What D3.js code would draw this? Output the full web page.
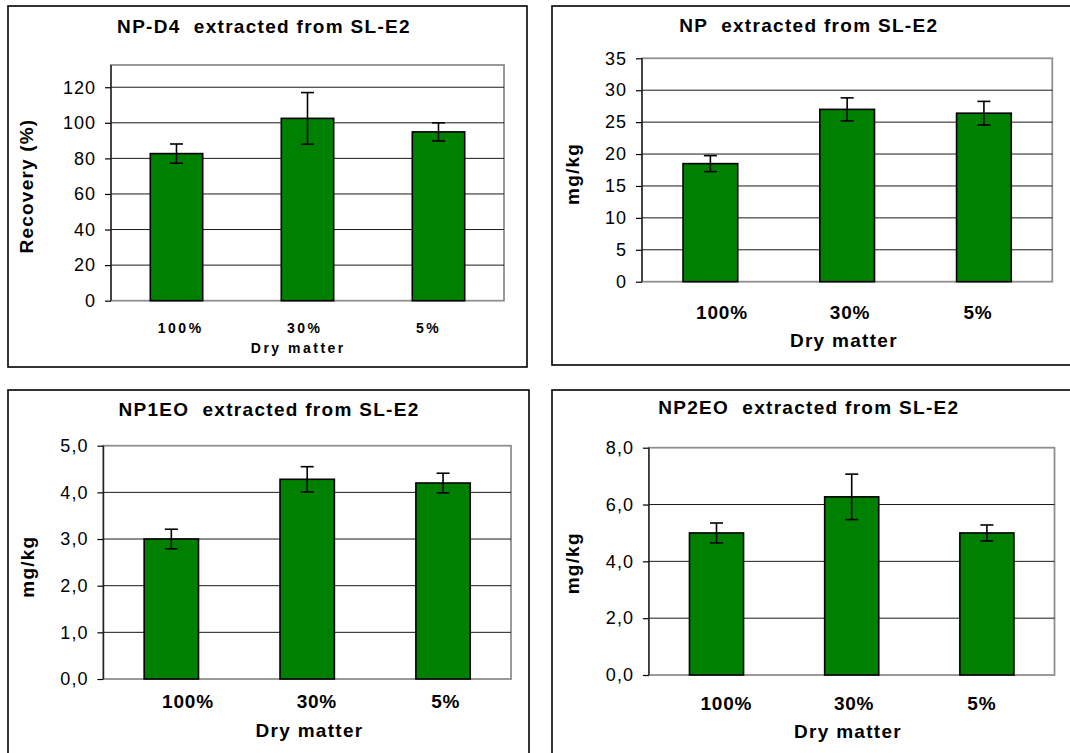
<!DOCTYPE html>
<html><head><meta charset="utf-8">
<script src="https://cdn.jsdelivr.net/npm/d3@7"></script>
<style>
body{margin:0;background:#fff}
svg{display:block;font-family:"Liberation Sans",Arial,Helvetica,sans-serif}
text{white-space:pre}
</style>
</head><body>
<svg id="c" width="1070" height="753"></svg>
<script>
// ---------- data ----------
const categories = ["100%", "30%", "5%"];
const xAxisTitle = "Dry matter";

const npd4Title = "NP-D4  extracted from SL-E2";
const npd4YTitle = "Recovery (%)";
const npd4Values = [82.7, 102.5, 94.9];
const npd4Errors = [5.4, 14.5, 5.1];
const npd4Ticks = [0, 20, 40, 60, 80, 100, 120];

const npTitle = "NP  extracted from SL-E2";
const npYTitle = "mg/kg";
const npValues = [18.5, 27.0, 26.4];
const npErrors = [1.25, 1.8, 1.85];
const npTicks = [0, 5, 10, 15, 20, 25, 30, 35];

const np1eoTitle = "NP1EO  extracted from SL-E2";
const np1eoYTitle = "mg/kg";
const np1eoValues = [3.0, 4.28, 4.2];
const np1eoErrors = [0.21, 0.27, 0.21];
const np1eoTicks = [0, 1, 2, 3, 4, 5];

const np2eoTitle = "NP2EO  extracted from SL-E2";
const np2eoYTitle = "mg/kg";
const np2eoValues = [5.0, 6.27, 5.0];
const np2eoErrors = [0.35, 0.8, 0.28];
const np2eoTicks = [0, 2, 4, 6, 8];

// ---------- formats ----------
const commaLocale = d3.formatLocale({decimal: ",", thousands: ".", grouping: [3], currency: ["", ""]});
const fmtInt = d3.format("d");
const fmtDec = commaLocale.format(".1f");

// ---------- layout ----------
const panels = [
  {title: npd4Title, yTitle: npd4YTitle, values: npd4Values, errors: npd4Errors, ticks: npd4Ticks, fmt: fmtInt,
   frame: [8, 6, 519, 361], plot: {l: 111, t: 65, r: 504, b: 300.7}, ymax: 132.5,
   titlePos: [264, 32.7], yTitlePos: [33, 186], yTitleLs: 1.2,
   xlab: {l: 180.7, r: 428.6, y: 333.3, size: 14, ls: 2.5}, xt: {x: 298.3, y: 353.3, size: 14, ls: 2.5}},
  {title: npTitle, yTitle: npYTitle, values: npValues, errors: npErrors, ticks: npTicks, fmt: fmtInt,
   frame: [552, 6, 530, 359], plot: {l: 642, t: 58.3, r: 1052.3, b: 281.7}, ymax: 35,
   titlePos: [808.8, 32.3], yTitlePos: [579, 174], yTitleLs: 1.2,
   xlab: {l: 722, r: 978, y: 319.3, size: 19, ls: 0.8}, xt: {x: 843.9, y: 346.7, size: 19, ls: 1.3}},
  {title: np1eoTitle, yTitle: np1eoYTitle, values: np1eoValues, errors: np1eoErrors, ticks: np1eoTicks, fmt: fmtDec,
   frame: [8, 390, 521, 400], plot: {l: 103.4, t: 445.7, r: 511, b: 679}, ymax: 5,
   titlePos: [269, 416], yTitlePos: [34, 566.7], yTitleLs: 1.2,
   xlab: {l: 188, r: 445.7, y: 708.3, size: 19, ls: 0.8}, xt: {x: 309.5, y: 736.7, size: 19, ls: 1.3}},
  {title: np2eoTitle, yTitle: np2eoYTitle, values: np2eoValues, errors: np2eoErrors, ticks: np2eoTicks, fmt: fmtDec,
   frame: [552, 390, 530, 400], plot: {l: 648.9, t: 447.7, r: 1054.5, b: 675}, ymax: 8,
   titlePos: [808.8, 414.3], yTitlePos: [579, 563.3], yTitleLs: 1.2,
   xlab: {l: 726.4, r: 981.8, y: 710, size: 19, ls: 0.8}, xt: {x: 848, y: 738.3, size: 19, ls: 1.3}}
];

const svg = d3.select("#c");
svg.append("rect").attr("width", 1070).attr("height", 753).attr("fill", "#fff");

panels.forEach(p => {
  const g = svg.append("g");
  // frame
  g.append("rect").attr("x", p.frame[0]).attr("y", p.frame[1])
    .attr("width", p.frame[2]).attr("height", p.frame[3])
    .attr("fill", "#fff").attr("stroke", "#000").attr("stroke-width", 1.6);

  const {l, t, r, b} = p.plot;
  const x = d3.scaleBand().domain(categories).range([l, r]).paddingInner(0.6).paddingOuter(0.3);
  const y = d3.scaleLinear().domain([0, p.ymax]).range([b, t]);
  const xl = d3.scalePoint().domain(categories).range([p.xlab.l, p.xlab.r]);

  // plot area border (grey)
  g.append("rect").attr("x", l).attr("y", t).attr("width", r - l).attr("height", b - t)
    .attr("fill", "#fff").attr("stroke", "#8f8f8f").attr("stroke-width", 1.8);

  // gridlines
  g.append("g").selectAll("line").data(p.ticks.filter(v => v > 0 && v < p.ymax)).join("line")
    .attr("x1", l).attr("x2", r).attr("y1", d => y(d)).attr("y2", d => y(d))
    .attr("stroke", "#1a1a1a").attr("stroke-width", 1);

  // bars
  const data = categories.map((c, i) => ({c, v: p.values[i], e: p.errors[i]}));
  g.append("g").selectAll("rect").data(data).join("rect")
    .attr("x", d => x(d.c)).attr("width", x.bandwidth())
    .attr("y", d => y(d.v)).attr("height", d => y(0) - y(d.v))
    .attr("fill", "#008000").attr("stroke", "#000").attr("stroke-width", 1.6);

  // error bars
  const eg = g.append("g").attr("stroke", "#000").attr("stroke-width", 1.6);
  data.forEach(d => {
    const cx = x(d.c) + x.bandwidth() / 2;
    eg.append("line").attr("x1", cx).attr("x2", cx).attr("y1", y(d.v + d.e)).attr("y2", y(d.v - d.e));
    eg.append("line").attr("x1", cx - 6.5).attr("x2", cx + 6.5).attr("y1", y(d.v + d.e)).attr("y2", y(d.v + d.e));
    eg.append("line").attr("x1", cx - 6.5).attr("x2", cx + 6.5).attr("y1", y(d.v - d.e)).attr("y2", y(d.v - d.e));
  });

  // y axis
  const ax = g.append("g").attr("transform", `translate(${l},0)`)
    .call(d3.axisLeft(y).tickValues(p.ticks).tickSize(6).tickPadding(9).tickFormat(p.fmt));
  ax.select(".domain").remove();
  ax.selectAll(".tick line").attr("stroke", "#000").attr("stroke-width", 1.2);
  ax.selectAll(".tick text").attr("fill", "#000").attr("font-size", 18)
    .attr("font-family", '"Liberation Sans",Arial,sans-serif').style("letter-spacing", "1px");
  g.append("line").attr("x1", l).attr("x2", l).attr("y1", t).attr("y2", b)
    .attr("stroke", "#222").attr("stroke-width", 1.4);

  // category labels
  g.append("g").selectAll("text").data(categories).join("text")
    .attr("x", d => xl(d)).attr("y", p.xlab.y).attr("text-anchor", "middle")
    .attr("font-size", p.xlab.size).attr("font-weight", "bold")
    .style("letter-spacing", p.xlab.ls + "px").text(d => d);

  // x axis title
  g.append("text").attr("x", p.xt.x).attr("y", p.xt.y).attr("text-anchor", "middle")
    .attr("font-size", p.xt.size).attr("font-weight", "bold")
    .style("letter-spacing", p.xt.ls + "px").text(xAxisTitle);

  // chart title
  g.append("text").attr("x", p.titlePos[0]).attr("y", p.titlePos[1]).attr("text-anchor", "middle")
    .attr("font-size", 19).attr("font-weight", "bold").style("letter-spacing", "1.3px").text(p.title);

  // y title
  g.append("text").attr("transform", `translate(${p.yTitlePos[0]},${p.yTitlePos[1]}) rotate(-90)`)
    .attr("text-anchor", "middle").attr("font-size", 19).attr("font-weight", "bold")
    .style("letter-spacing", p.yTitleLs + "px").text(p.yTitle);
});
</script>
</body></html>
